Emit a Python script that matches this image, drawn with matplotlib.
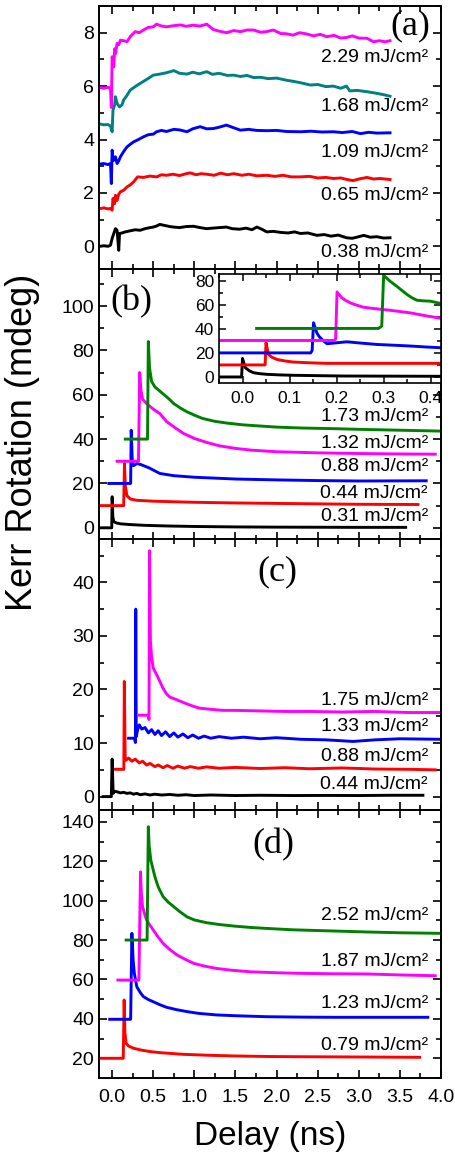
import numpy as np
import matplotlib
matplotlib.use("Agg")
import matplotlib.pyplot as plt
from matplotlib.ticker import MultipleLocator, NullFormatter

plt.rcParams['font.family'] = ['Liberation Sans', 'DejaVu Sans']

# ---- panel (a) ----
a_038 = [(-0.15, 0.0), (-0.10, 0.02), (-0.05, 0.0), (-0.02, 0.04), (0.0, 0.30), (0.02, 0.48), (0.04, 0.66),
         (0.06, 0.60), (0.08, -0.15), (0.09, 0.48), (0.12, 0.50), (0.16, 0.54), (0.22, 0.58), (0.28, 0.62),
         (0.34, 0.60), (0.40, 0.66), (0.46, 0.70), (0.50, 0.72), (0.54, 0.76), (0.58, 0.82), (0.64, 0.78),
         (0.70, 0.74), (0.75, 0.72), (0.82, 0.70), (0.90, 0.74), (0.99, 0.75), (1.07, 0.70), (1.15, 0.66),
         (1.22, 0.68), (1.30, 0.70), (1.39, 0.72), (1.46, 0.66), (1.55, 0.64), (1.63, 0.68), (1.70, 0.62),
         (1.76, 0.72), (1.82, 0.64), (1.88, 0.54), (1.96, 0.56), (2.05, 0.52), (2.14, 0.50), (2.22, 0.54),
         (2.29, 0.48), (2.38, 0.50), (2.49, 0.41), (2.58, 0.44), (2.66, 0.38), (2.75, 0.42), (2.85, 0.32),
         (2.92, 0.30), (3.00, 0.36), (3.06, 0.41), (3.14, 0.34), (3.22, 0.36), (3.30, 0.31), (3.38, 0.32)]
a_065 = [(-0.15, 1.41), (-0.10, 1.44), (-0.05, 1.40), (-0.02, 1.42), (0.0, 1.35), (0.01, 1.79), (0.03, 1.60),
         (0.04, 1.91), (0.06, 1.72), (0.08, 1.95), (0.10, 2.04), (0.14, 2.10), (0.18, 2.22), (0.22, 2.30),
         (0.26, 2.41), (0.31, 2.60), (0.38, 2.58), (0.46, 2.63), (0.54, 2.60), (0.60, 2.68), (0.66, 2.66),
         (0.74, 2.70), (0.82, 2.65), (0.90, 2.72), (0.95, 2.75), (1.02, 2.68), (1.08, 2.72), (1.15, 2.70),
         (1.24, 2.66), (1.32, 2.74), (1.40, 2.68), (1.48, 2.72), (1.58, 2.66), (1.66, 2.70), (1.76, 2.64),
         (1.88, 2.66), (1.98, 2.62), (2.08, 2.66), (2.18, 2.60), (2.29, 2.60), (2.40, 2.62), (2.50, 2.56),
         (2.60, 2.58), (2.69, 2.54), (2.78, 2.56), (2.86, 2.50), (2.93, 2.46), (3.00, 2.52), (3.10, 2.58),
         (3.18, 2.52), (3.26, 2.54), (3.38, 2.50)]
a_109 = [(-0.15, 3.08), (-0.10, 3.10), (-0.05, 3.06), (-0.02, 3.10), (-0.01, 2.35), (0.0, 3.60), (0.01, 3.30),
         (0.02, 3.22), (0.04, 3.35), (0.06, 3.10), (0.08, 3.20), (0.10, 3.35), (0.14, 3.55), (0.18, 3.72),
         (0.22, 3.82), (0.26, 3.91), (0.32, 4.00), (0.38, 4.10), (0.44, 4.18), (0.50, 4.20), (0.54, 4.29),
         (0.60, 4.34), (0.66, 4.30), (0.75, 4.38), (0.82, 4.36), (0.91, 4.29), (0.98, 4.40), (1.07, 4.48),
         (1.15, 4.40), (1.23, 4.41), (1.30, 4.46), (1.39, 4.54), (1.46, 4.46), (1.56, 4.35), (1.66, 4.38),
         (1.76, 4.34), (1.88, 4.33), (2.00, 4.34), (2.12, 4.30), (2.29, 4.29), (2.42, 4.31), (2.55, 4.28),
         (2.69, 4.29), (2.80, 4.26), (2.92, 4.30), (3.02, 4.22), (3.12, 4.27), (3.22, 4.24), (3.38, 4.25)]
a_168 = [(-0.15, 4.58), (-0.10, 4.55), (-0.05, 4.56), (-0.02, 4.50), (0.0, 4.29), (0.01, 5.10), (0.03, 5.30),
         (0.04, 5.60), (0.06, 5.35), (0.09, 5.22), (0.12, 5.30), (0.14, 5.48), (0.18, 5.65), (0.22, 5.85),
         (0.28, 5.98), (0.34, 6.10), (0.42, 6.25), (0.50, 6.41), (0.58, 6.45), (0.66, 6.50), (0.75, 6.58),
         (0.82, 6.48), (0.91, 6.45), (0.98, 6.52), (1.06, 6.46), (1.15, 6.54), (1.22, 6.44), (1.30, 6.48),
         (1.40, 6.40), (1.48, 6.41), (1.56, 6.36), (1.64, 6.40), (1.72, 6.32), (1.80, 6.33), (1.90, 6.28),
         (2.00, 6.30), (2.12, 6.22), (2.20, 6.18), (2.30, 6.12), (2.41, 6.04), (2.50, 6.06), (2.60, 5.98),
         (2.69, 6.00), (2.78, 5.92), (2.85, 6.00), (2.89, 5.82), (2.98, 5.84), (3.10, 5.79), (3.20, 5.74),
         (3.30, 5.68), (3.38, 5.62)]
a_229 = [(-0.15, 5.95), (-0.10, 5.92), (-0.05, 5.96), (-0.02, 5.91), (-0.01, 5.20), (0.0, 7.10), (0.01, 6.90),
         (0.02, 6.72), (0.03, 7.40), (0.04, 7.22), (0.06, 7.60), (0.08, 7.55), (0.10, 7.72), (0.14, 7.70),
         (0.18, 7.66), (0.22, 7.85), (0.28, 8.04), (0.33, 8.00), (0.38, 8.10), (0.44, 8.20), (0.50, 8.22),
         (0.54, 8.32), (0.60, 8.25), (0.66, 8.22), (0.74, 8.26), (0.83, 8.29), (0.90, 8.24), (0.98, 8.28),
         (1.07, 8.25), (1.15, 8.32), (1.23, 8.12), (1.30, 8.06), (1.39, 8.00), (1.48, 8.08), (1.56, 8.04),
         (1.64, 8.10), (1.72, 8.10), (1.80, 8.02), (1.88, 8.04), (1.96, 8.10), (2.05, 7.97), (2.12, 7.96),
         (2.20, 7.91), (2.28, 8.00), (2.37, 7.95), (2.45, 7.88), (2.53, 7.94), (2.61, 7.85), (2.70, 7.90),
         (2.78, 7.80), (2.85, 7.82), (2.92, 7.88), (3.00, 7.80), (3.10, 7.79), (3.18, 7.66), (3.25, 7.70),
         (3.32, 7.66), (3.38, 7.70)]

# ---- panel (b) ----
b_031 = [(-0.15, 0), (-0.005, 0), (0.0, 14), (0.008, 5), (0.02, 2.8), (0.05, 2.2), (0.1, 1.8), (0.2, 1.5),
         (0.4, 1.1), (0.7, 0.8), (1.0, 0.6), (1.5, 0.4), (2.0, 0.3), (3.0, 0.2), (3.57, 0.2)]
b_044 = [(-0.15, 10), (0.14, 10), (0.15, 29), (0.16, 19), (0.18, 14.5), (0.22, 13), (0.3, 12.4), (0.5, 12),
         (1.0, 11.5), (1.5, 11.2), (2.0, 11), (2.5, 10.8), (3.0, 10.6), (3.72, 10.5)]
b_088 = [(-0.04, 20), (0.225, 20), (0.232, 44), (0.245, 30), (0.26, 28), (0.3, 29), (0.35, 28.5), (0.45, 27),
         (0.58, 24.5), (0.75, 23.5), (1.0, 22.8), (1.5, 22), (2.0, 21.6), (2.5, 21.3), (3.0, 21.1), (3.82, 21.2)]
b_132 = [(0.06, 30), (0.32, 30), (0.335, 70), (0.35, 62), (0.37, 58), (0.42, 56), (0.5, 53.5), (0.58, 51.5),
         (0.66, 48), (0.75, 45.5), (0.87, 42.5), (1.0, 40.3), (1.15, 38.5), (1.3, 37), (1.5, 35.8), (1.7, 35),
         (2.0, 34.3), (2.5, 33.8), (3.0, 33.5), (3.5, 33.3), (3.93, 33.2)]
b_173 = [(0.16, 40), (0.43, 40), (0.44, 84), (0.455, 72), (0.48, 66), (0.52, 63.5), (0.6, 61), (0.68, 58.5),
         (0.75, 56), (0.83, 54), (0.91, 52.3), (1.0, 50.8), (1.1, 49.3), (1.25, 48), (1.4, 47.2), (1.6, 46.4),
         (1.8, 45.9), (2.0, 45.4), (2.3, 45), (2.7, 44.7), (3.0, 44.4), (3.5, 44), (4.0, 43.6)]

# inset of (b), first 0.4 ns
i_031 = [(-0.06, 0), (-0.002, 0), (0.0, 15.4), (0.006, 7.7), (0.015, 5), (0.023, 3.6), (0.035, 2.8),
         (0.052, 2.2), (0.08, 1.7), (0.108, 1.4), (0.16, 1.1), (0.215, 0.8), (0.3, 0.7), (0.43, 0.55)]
i_044 = [(-0.06, 10), (0.048, 10), (0.05, 28.4), (0.055, 18.8), (0.062, 16.5), (0.073, 14.6), (0.09, 13.3),
         (0.108, 12.4), (0.14, 11.8), (0.18, 11.3), (0.3, 11.3), (0.43, 11.3)]
i_088 = [(-0.06, 20), (0.145, 20), (0.148, 22), (0.151, 45), (0.158, 36.7), (0.163, 33.5), (0.169, 31.2),
         (0.175, 29), (0.18, 27.6), (0.19, 28), (0.2, 28.4), (0.222, 29.2), (0.25, 28.2), (0.286, 27),
         (0.32, 26.4), (0.357, 25.7), (0.39, 24.9), (0.43, 24.1)]
i_132 = [(-0.06, 30.3), (0.196, 30.3), (0.198, 31.7), (0.201, 70.6), (0.211, 65.7), (0.22, 63.4),
         (0.229, 61.5), (0.243, 59.6), (0.257, 57.9), (0.28, 56.8), (0.3, 56), (0.33, 54.6), (0.357, 53.2),
         (0.39, 50.8), (0.43, 48.2)]
i_173 = [(0.03, 40.3), (0.289, 40.3), (0.296, 42.2), (0.3, 84.4), (0.314, 79.4), (0.328, 75.3), (0.34, 71.5),
         (0.35, 68.4), (0.36, 65.8), (0.371, 63.7), (0.385, 63.2), (0.4, 62.9), (0.43, 60.2)]

# ---- panel (c) ----
c_044 = [(-0.11, 0), (-0.01, 0), (0.0, 7), (0.012, 0.6), (0.03, 1.0), (0.06, 0.9), (0.1, 0.7), (0.14, 0.8),
         (0.18, 0.6), (0.22, 0.7), (0.26, 0.45), (0.3, 0.6), (0.34, 0.35), (0.4, 0.5), (0.46, 0.3), (0.52, 0.45),
         (0.6, 0.3), (0.7, 0.4), (0.8, 0.25), (0.9, 0.35), (1.0, 0.2), (1.2, 0.3), (1.5, 0.2), (1.8, 0.25),
         (2.2, 0.2), (2.6, 0.22), (3.0, 0.2), (3.4, 0.25), (3.78, 0.25)]
c_088 = [(0.04, 5.1), (0.142, 5.1), (0.148, 21.5), (0.158, 7.5), (0.17, 6.8), (0.2, 7.2), (0.24, 6.6),
         (0.28, 7.0), (0.33, 6.3), (0.37, 6.6), (0.42, 5.9), (0.46, 6.2), (0.52, 5.6), (0.56, 5.9), (0.62, 5.4),
         (0.67, 5.8), (0.74, 5.3), (0.8, 5.7), (0.88, 5.3), (0.95, 5.6), (1.05, 5.3), (1.15, 5.55), (1.3, 5.3),
         (1.5, 5.45), (1.8, 5.25), (2.1, 5.4), (2.4, 5.2), (2.8, 5.35), (3.2, 5.15), (3.6, 5.1), (3.93, 5.0)]
c_133 = [(0.2, 10.9), (0.27, 10.9), (0.283, 10.1), (0.287, 35), (0.293, 11.2), (0.31, 12.5), (0.33, 13.4),
         (0.36, 12.6), (0.4, 12.9), (0.44, 11.9), (0.48, 12.5), (0.52, 11.6), (0.56, 12.3), (0.6, 11.4),
         (0.65, 12.1), (0.7, 11.2), (0.75, 11.9), (0.8, 11.1), (0.86, 11.7), (0.92, 11.0), (0.98, 11.5),
         (1.05, 10.9), (1.12, 11.3), (1.2, 10.9), (1.3, 11.2), (1.45, 10.9), (1.6, 11.1), (1.8, 10.8),
         (2.0, 11.0), (2.3, 10.7), (2.6, 10.6), (2.93, 10.3), (3.2, 10.6), (3.5, 10.8), (4.0, 10.7)]
c_175 = [(0.33, 15.2), (0.44, 15.2), (0.448, 14.4), (0.455, 45.9), (0.465, 29.2), (0.48, 26.0), (0.5, 24.0),
         (0.52, 23.4), (0.55, 22.5), (0.58, 21.5), (0.62, 20.2), (0.66, 19.2), (0.7, 18.6), (0.75, 18.3),
         (0.83, 17.8), (0.91, 17.3), (1.0, 16.8), (1.07, 16.5), (1.2, 16.3), (1.35, 16.1), (1.5, 16.1),
         (1.8, 16.0), (2.1, 15.9), (2.4, 15.9), (2.8, 15.8), (3.2, 15.9), (3.6, 15.7), (4.0, 15.7)]

# ---- panel (d) ----
d_079 = [(-0.15, 20), (0.135, 20), (0.146, 49.6), (0.155, 33), (0.17, 27.6), (0.2, 26.2), (0.26, 25.1),
         (0.35, 24.2), (0.46, 23.4), (0.6, 22.8), (0.87, 22.0), (1.2, 21.5), (1.48, 21.2), (1.9, 20.9),
         (2.29, 20.8), (2.8, 20.7), (3.3, 20.6), (3.74, 20.5)]
d_123 = [(-0.03, 39.8), (0.225, 39.8), (0.24, 83.4), (0.255, 70), (0.27, 63.1), (0.3, 56.3), (0.34, 53.5),
         (0.38, 51.3), (0.44, 49.8), (0.5, 48.7), (0.58, 47.2), (0.66, 45.9), (0.78, 44.7), (0.91, 43.7),
         (1.05, 42.8), (1.27, 42.0), (1.5, 41.6), (1.88, 41.1), (2.3, 40.9), (2.69, 40.8), (3.2, 40.8),
         (3.84, 40.8)]
d_187 = [(0.07, 59.7), (0.325, 59.7), (0.345, 114.6), (0.355, 104), (0.37, 96.9), (0.4, 92.5), (0.42, 90.1),
         (0.46, 87.5), (0.5, 85.1), (0.56, 81.5), (0.62, 78.3), (0.7, 75.2), (0.79, 72.4), (0.89, 70.2),
         (0.99, 68.2), (1.12, 66.8), (1.27, 65.6), (1.45, 64.7), (1.68, 63.9), (2.0, 63.4), (2.29, 63.1),
         (2.7, 62.9), (3.1, 62.8), (3.5, 62.3), (3.93, 61.9)]
d_252 = [(0.17, 80), (0.425, 80), (0.44, 137.5), (0.45, 128), (0.47, 120.6), (0.5, 115.5), (0.52, 112.1),
         (0.56, 107), (0.62, 102), (0.68, 99.3), (0.75, 96.9), (0.83, 94.2), (0.91, 91.8), (1.0, 90.2),
         (1.15, 88.8), (1.3, 87.9), (1.48, 87.1), (1.68, 86.4), (1.88, 85.9), (2.2, 85.2), (2.69, 84.6),
         (3.1, 84.1), (3.5, 83.7), (4.0, 83.4)]

BLACK, RED, BLUE, MAGENTA, TEAL, GREEN = '#000000', '#ff0000', '#0000ff', '#ff00ff', '#008080', '#008000'

# (series, colour, label, label y)
panel_a = [(a_038, BLACK, '0.38', -0.22), (a_065, RED, '0.65', 1.91), (a_109, BLUE, '1.09', 3.53),
           (a_168, TEAL, '1.68', 5.22), (a_229, MAGENTA, '2.29', 7.08)]
panel_b = [(b_031, BLACK, '0.31', 5.0), (b_044, RED, '0.44', 15.5), (b_088, BLUE, '0.88', 27.5),
           (b_132, MAGENTA, '1.32', 38.1), (b_173, GREEN, '1.73', 50.1)]
panel_c = [(c_044, BLACK, '0.44', 2.2), (c_088, RED, '0.88', 7.5), (c_133, BLUE, '1.33', 13.1),
           (c_175, MAGENTA, '1.75', 18.0)]
panel_d = [(d_079, RED, '0.79', 26.7), (d_123, BLUE, '1.23', 47.9), (d_187, MAGENTA, '1.87', 69.3),
           (d_252, GREEN, '2.52', 92.7)]
inset_b = [(i_031, BLACK), (i_044, RED), (i_088, BLUE), (i_132, MAGENTA), (i_173, GREEN)]

W, H = 455, 1156
fig = plt.figure(figsize=(W / 100, H / 100), dpi=100)


def px_axes(x0, y0, x1, y1):
    return fig.add_axes([x0 / W, 1 - y1 / H, (x1 - x0) / W, (y1 - y0) / H])


def style(ax, ymaj, ymin, labelsize=14):
    ax.xaxis.set_major_locator(MultipleLocator(0.5))
    ax.xaxis.set_minor_locator(MultipleLocator(0.25))
    ax.yaxis.set_major_locator(MultipleLocator(ymaj))
    ax.yaxis.set_minor_locator(MultipleLocator(ymin))
    ax.tick_params(which='both', direction='in', top=True, right=True, width=1.2, labelsize=labelsize)
    ax.tick_params(which='major', length=6)
    ax.tick_params(which='minor', length=3.5)
    for s in ax.spines.values():
        s.set_linewidth(1.4)


panels = [
    (px_axes(99, 6, 441, 269), panel_a, (-0.85, 9.0), 2, 1, '(a)', (0.91, 0.925)),
    (px_axes(99, 269, 441, 540), panel_b, (-5.5, 116.7), 20, 10, '(b)', (0.094, 0.878)),
    (px_axes(99, 539, 441, 810), panel_c, (-2.5, 48.1), 10, 5, '(c)', (0.522, 0.878)),
    (px_axes(99, 810, 441, 1078), panel_d, (10, 146), 20, 10, '(d)', (0.509, 0.87)),
]

for k, (ax, series, ylim, ymaj, ymin, tag, tagpos) in enumerate(panels):
    for pts, col, fl, ly in series:
        arr = np.array(pts, dtype=float)
        ax.plot(arr[:, 0], arr[:, 1], color=col, lw=2.1, solid_joinstyle='round')
        ax.text(3.84, ly, fl + ' mJ/cm\u00b2', ha='right', va='center', fontsize=14)
    ax.set_xlim(-0.16, 4.0)
    ax.set_ylim(*ylim)
    style(ax, ymaj, ymin)
    ax.text(tagpos[0], tagpos[1], tag, transform=ax.transAxes, ha='center', va='center',
            fontsize=26, family='Liberation Serif')
    if k < 3:
        ax.xaxis.set_major_formatter(NullFormatter())
    else:
        ax.set_xticks(np.arange(0, 4.01, 0.5))
        ax.set_xticklabels([f'{v:.1f}' for v in np.arange(0, 4.01, 0.5)])
        ax.tick_params(axis='x', pad=8)

# inset in (b)
ins = px_axes(219, 274, 441, 383)
for pts, col in inset_b:
    arr = np.array(pts, dtype=float)
    ins.plot(arr[:, 0], arr[:, 1], color=col, lw=2.1)
ins.set_xlim(-0.05, 0.422)
ins.set_ylim(-5, 85.5)
ins.xaxis.set_major_locator(MultipleLocator(0.1))
ins.xaxis.set_minor_locator(MultipleLocator(0.05))
ins.yaxis.set_major_locator(MultipleLocator(20))
ins.yaxis.set_minor_locator(MultipleLocator(10))
ins.tick_params(which='both', direction='in', top=True, right=True, width=1.1, labelsize=12.5)
ins.tick_params(which='major', length=5)
ins.tick_params(which='minor', length=3)
ins.tick_params(axis='x', pad=6)
for s in ins.spines.values():
    s.set_linewidth(1.2)

fig.text(23 / W, 1 - 442 / H, 'Kerr Rotation (mdeg)', rotation=90, ha='center', va='center', fontsize=26)
fig.text(270 / W, 1 - 1136 / H, 'Delay (ns)', ha='center', va='center', fontsize=24)

fig.savefig('out.png', dpi=100)
